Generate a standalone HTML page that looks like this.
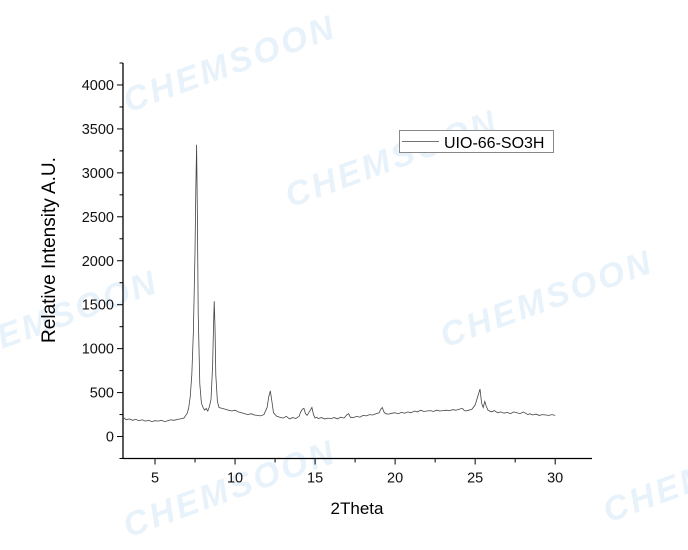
<!DOCTYPE html>
<html><head><meta charset="utf-8"><style>
body{margin:0;background:#fff;width:688px;height:550px;overflow:hidden;font-family:"Liberation Sans",sans-serif}
.wm{position:absolute;font:bold italic 34px "Liberation Sans",sans-serif;color:#e8f2fa;transform:rotate(-20deg);letter-spacing:3px;white-space:nowrap}
</style></head><body>
<div class="wm" style="left:118px;top:45px">CHEMSOON</div>
<div class="wm" style="left:280px;top:140px">CHEMSOON</div>
<div class="wm" style="left:435px;top:280px">CHEMSOON</div>
<div class="wm" style="left:-60px;top:300px">CHEMSOON</div>
<div class="wm" style="left:118px;top:470px">CHEMSOON</div>
<div class="wm" style="left:598px;top:455px">CHEMSOON</div>
<svg id="c" width="688" height="550" style="position:absolute;left:0;top:0"></svg>
<script>
const xTicks=[5,10,15,20,25,30];
const yTicks=[0,500,1000,1500,2000,2500,3000,3500,4000];
const seriesName="UIO-66-SO3H";
const twoTheta=[3,3.2,3.4,3.6,3.8,4,4.2,4.4,4.6,4.8,5,5.2,5.4,5.6,5.8,6,6.2,6.4,6.6,6.8,7,7.1,7.2,7.3,7.4,7.5,7.55,7.6,7.65,7.7,7.8,7.9,8,8.1,8.2,8.3,8.4,8.5,8.6,8.65,8.7,8.75,8.8,8.9,9,9.2,9.4,9.6,9.8,10,10.2,10.4,10.6,10.8,11,11.2,11.4,11.6,11.8,12,12.1,12.2,12.3,12.4,12.6,12.8,13,13.2,13.4,13.6,13.8,14,14.1,14.2,14.3,14.4,14.5,14.6,14.7,14.8,14.9,15,15.1,15.2,15.4,15.6,15.8,16,16.2,16.4,16.6,16.8,17,17.1,17.2,17.4,17.6,17.8,18,18.2,18.4,18.6,18.8,19,19.1,19.2,19.3,19.4,19.6,19.8,20,20.2,20.4,20.6,20.8,21,21.2,21.4,21.6,21.8,22,22.2,22.4,22.6,22.8,23,23.2,23.4,23.6,23.8,24,24.2,24.3,24.4,24.6,24.8,25,25.2,25.3,25.4,25.5,25.6,25.7,25.8,25.9,26,26.2,26.4,26.6,26.8,27,27.2,27.4,27.6,27.8,28,28.2,28.3,28.4,28.6,28.8,29,29.2,29.4,29.6,29.8,30];
const intensity=[220,190,200,185,195,180,190,175,185,170,180,175,185,170,180,190,185,195,200,210,260,320,450,700,1200,2100,2800,3320,2500,1400,600,380,330,300,320,290,340,420,800,1200,1540,1250,700,400,330,320,310,300,290,300,280,270,260,250,260,245,240,235,250,330,450,520,400,270,230,220,210,230,200,215,205,230,280,310,320,260,240,270,300,330,250,210,220,205,215,200,210,205,215,200,220,210,250,260,220,215,230,220,240,235,250,245,260,270,310,330,280,260,255,265,270,260,275,265,280,270,290,280,300,285,290,295,285,300,290,295,300,295,305,300,310,320,300,290,300,310,360,480,540,380,330,400,340,300,290,280,295,270,280,265,275,260,280,270,260,280,260,250,260,245,255,240,250,245,240,250,240,245];
const NS="http://www.w3.org/2000/svg",svg=document.getElementById('c');
const X0=3,X1=32.3,px0=123,px1=592,Y0=-250,Y1=4250,py0=458.5,py1=63;
const sx=v=>px0+(v-X0)/(X1-X0)*(px1-px0);
const sy=v=>py0-(v-Y0)/(Y1-Y0)*(py0-py1);
function mk(t,a,txt){const e=document.createElementNS(NS,t);for(const k in a)e.setAttribute(k,a[k]);if(txt!==undefined)e.textContent=txt;svg.appendChild(e);return e;}
let e;
e=mk('line',{x1:px0,y1:py1,x2:px0,y2:py0,stroke:'#000','stroke-width':1.3});

e=mk('line',{x1:px0,y1:py0,x2:px1,y2:py0,stroke:'#000','stroke-width':1.3});

for(let v=-250;v<=4250;v+=250){const maj=v%500===0;
e=mk('line',{x1:px0-(maj?6:3.5),y1:sy(v),x2:px0,y2:sy(v),stroke:'#000','stroke-width':1});
}
yTicks.forEach(v=>{e=mk('text',{x:px0-9,y:sy(v)+5,'text-anchor':'end','font-size':14.5,fill:'#111'},v);
});
for(let v=5;v<=32.3;v+=2.5){const maj=v%5===0;
e=mk('line',{x1:sx(v),y1:py0,x2:sx(v),y2:py0+(maj?6:4),stroke:'#000','stroke-width':1});
}
xTicks.forEach(v=>{e=mk('text',{x:sx(v),y:py0+24,'text-anchor':'middle','font-size':14.5,fill:'#111'},v);
});
e=mk('text',{x:357,y:514,'text-anchor':'middle','font-size':17,fill:'#000'},'2Theta');

e=mk('text',{x:0,y:0,'text-anchor':'middle','font-size':19,fill:'#000',transform:'translate(55,250) rotate(-90)'},'Relative Intensity A.U.');

const n=Math.min(twoTheta.length,intensity.length);
e=mk('polyline',{points:twoTheta.slice(0,n).map((t,i)=>sx(t).toFixed(1)+','+sy(intensity[i]).toFixed(1)).join(' '),fill:'none',stroke:'#444','stroke-width':0.8});

e=mk('rect',{x:399.5,y:130.5,width:154,height:22,fill:'#fff',stroke:'#888','stroke-width':1});

e=mk('line',{x1:402,y1:141.5,x2:439,y2:141.5,stroke:'#444','stroke-width':0.8});

e=mk('text',{x:444,y:148,'font-size':16,fill:'#000'},seriesName);

</script>
</body></html>
